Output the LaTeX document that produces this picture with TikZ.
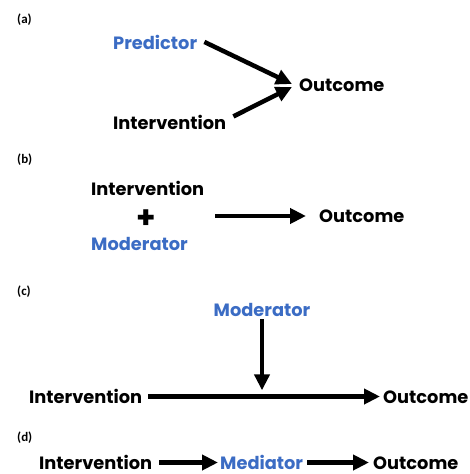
\documentclass[tikz,border=0pt]{standalone}
\usepackage{fontspec}
\usetikzlibrary{arrows.meta}
\newfontfamily\popfont{Poppins}
\newfontfamily\labfont{Carlito}
\definecolor{modblue}{RGB}{59,108,196}
\tikzset{
  txt/.style={inner sep=0pt, anchor=base west, font=\popfont\bfseries\fontsize{17.8}{20}\selectfont},
  bluetxt/.style={txt, text=modblue},
  lbl/.style={inner sep=0pt, anchor=base west, font=\labfont\bfseries\fontsize{13}{14}\selectfont},
  arr/.style={line width=4.5pt, -{Triangle[length=16pt,width=15pt]}}
}
\begin{document}
\begin{tikzpicture}[x=1pt,y=-1pt]
\useasboundingbox (0,0) rectangle (470,474);
% (a)
\node[lbl] (la) at (17,23) {(a)};
\node[bluetxt] (pa) at (113,49) {Predictor};
\node[txt] (oa) at (299,91) {Outcome};
\node[txt] (ia) at (113,129) {Intervention};
\draw[arr] ([xshift=7pt]pa.east) -- ([xshift=-7pt,yshift=7pt]oa.base west);
\draw[arr] ([xshift=7pt,yshift=5.5pt]ia.east) -- ([xshift=-7pt,yshift=4pt]oa.base west);
% (b)
\node[lbl] (lb) at (17,163) {(b)};
\node[txt] (ib) at (91,195) {Intervention};
\node[txt, anchor=center, font=\popfont\bfseries\fontsize{31}{33}\selectfont] (plus) at (146,219) {+};
\node[bluetxt] (mb) at (91,250) {Moderator};
\node[txt] (ob) at (319,222) {Outcome};
\draw[arr] ([xshift=-104pt,yshift=6pt]ob.base west) -- ([xshift=-13pt,yshift=6pt]ob.base west);
% (c)
\node[lbl] (lc) at (17,295) {(c)};
\node[bluetxt, anchor=base] (mc) at (262,316) {Moderator};
\node[txt] (ic) at (29,403) {Intervention};
\node[txt] (oc) at (383,403) {Outcome};
\draw[arr] ([yshift=-3pt]mc.south) -- ++(0,71);
\draw[arr] ([xshift=6pt,yshift=6.5pt]ic.base east) -- ([xshift=-3pt,yshift=6.5pt]oc.base west);
% (d)
\node[lbl] (ld) at (17,441) {(d)};
\node[txt] (id) at (39,469) {Intervention};
\node[bluetxt] (md) at (220,469) {Mediator};
\node[txt] (od) at (373,469) {Outcome};
\draw[arr] ([xshift=7pt,yshift=6.5pt]id.base east) -- ([xshift=-2pt,yshift=6.5pt]md.base west);
\draw[arr] ([xshift=4pt,yshift=6.5pt]md.base east) -- ([xshift=-4pt,yshift=6.5pt]od.base west);
\end{tikzpicture}
\end{document}
